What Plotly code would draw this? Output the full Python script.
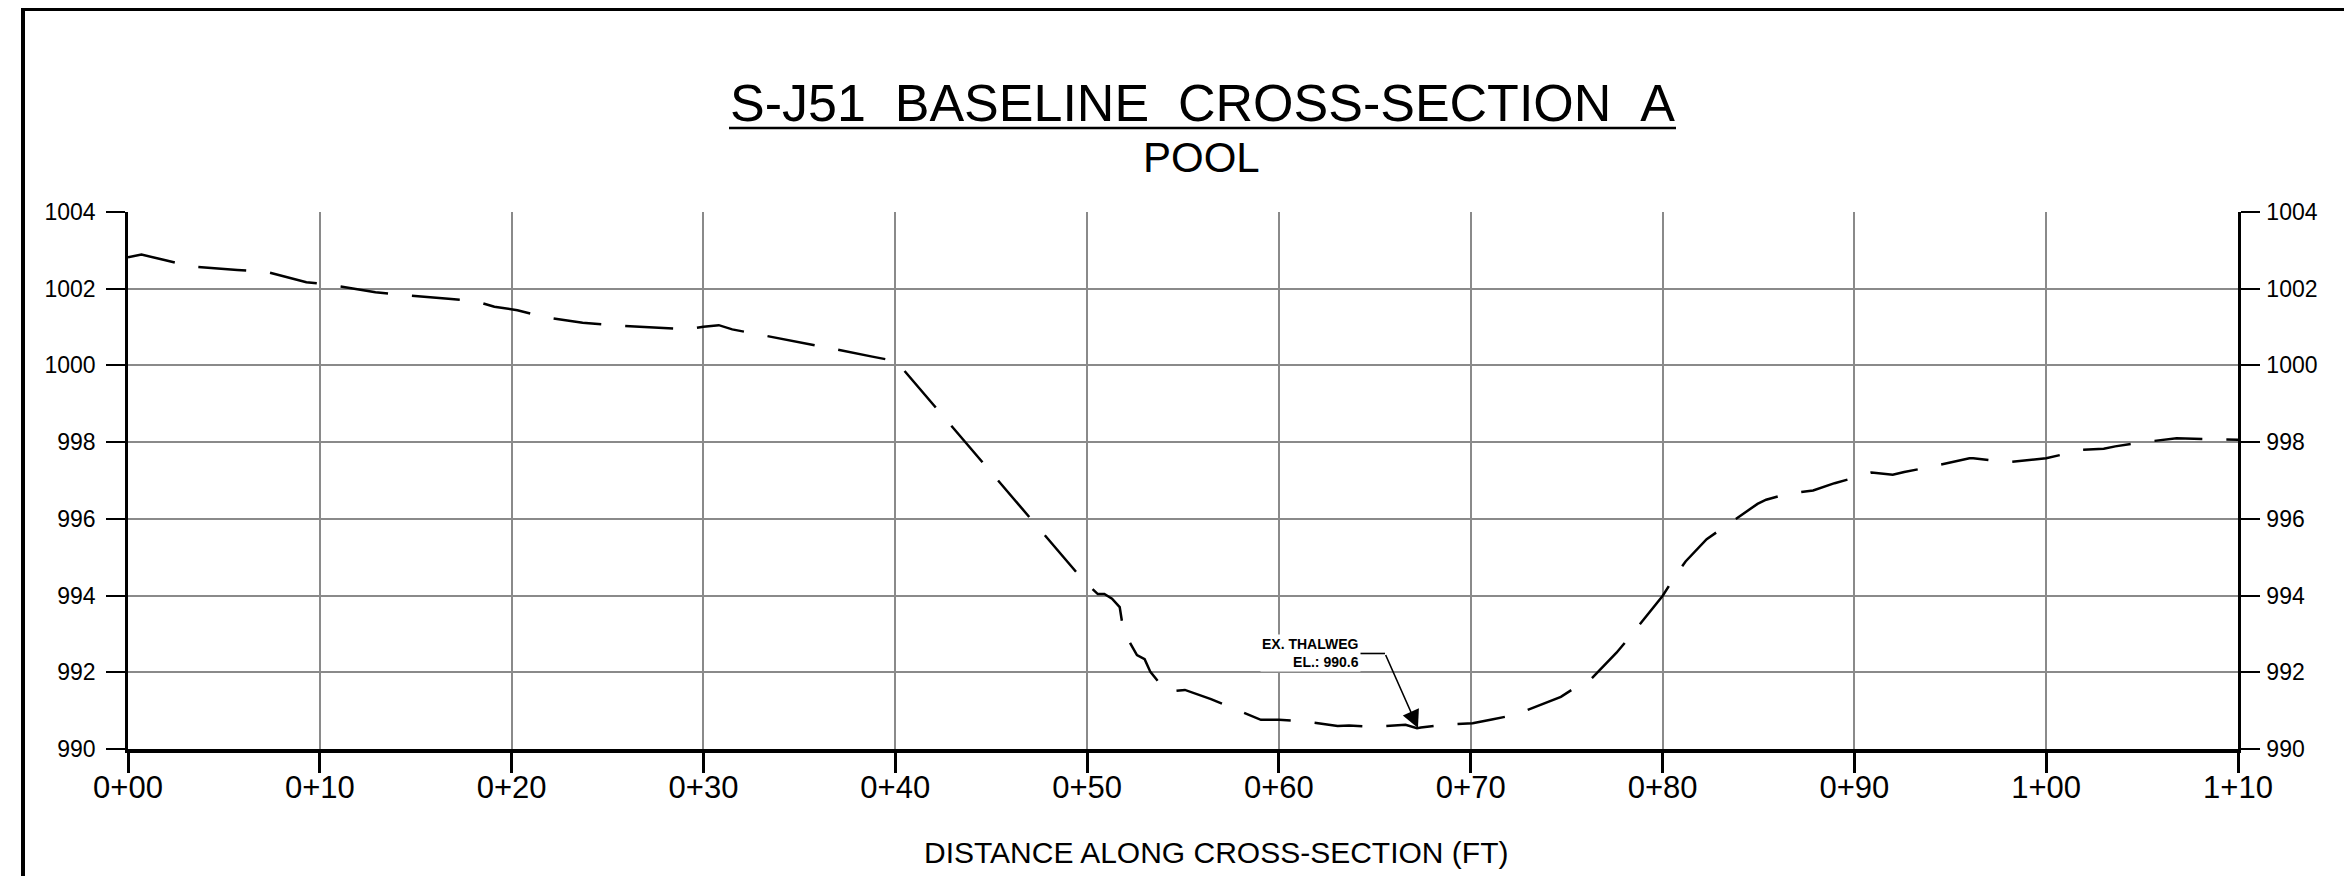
import plotly.graph_objects as go

# ---------------- data ----------------
station_ft = [0, 0.7, 1.9, 3.3, 5.7, 7.3, 9.3, 10.6, 12.9, 14.4,
              16.7, 18.1, 19.1, 20.3, 21.8, 23.7, 25.2, 27.8, 29.2, 30.0,
              30.8, 31.5, 33.1, 35.3, 36.4, 38.8, 40.05, 49.8, 50.56, 50.9,
              51.3, 51.7, 51.9, 52.6, 53.0, 53.3, 54.1, 54.2, 55.1, 56.46,
              57.6, 59.06, 60.0, 61.15, 63.06, 63.66, 64.9, 66.6, 67.2, 67.4,
              68.6, 70.1, 71.1, 72.3, 74.7, 75.7, 76.3, 77.6, 78.4, 80.0,
              80.65, 81.2, 82.3, 83.3, 84.95, 85.4, 86.5, 87.85, 88.97, 90.2,
              90.9, 92.0, 92.6, 93.8, 96.0, 96.2, 97.6, 98.0, 100.0, 101.2,
              101.9, 103.0, 103.6, 104.9, 106.8, 110.0]
elevation_ft = [1002.82, 1002.89, 1002.75, 1002.58, 1002.49, 1002.43, 1002.17, 1002.10, 1001.91, 1001.83,
                1001.74, 1001.68, 1001.53, 1001.44, 1001.25, 1001.11, 1001.05, 1000.97, 1000.94, 1001.01,
                1001.05, 1000.94, 1000.79, 1000.58, 1000.47, 1000.23, 1000.11, 994.40, 994.04, 994.04,
                993.92, 993.70, 993.06, 992.45, 992.34, 992.01, 991.52, 991.49, 991.54, 991.30,
                991.06, 990.76, 990.76, 990.73, 990.60, 990.61, 990.58, 990.63, 990.54, 990.56,
                990.63, 990.67, 990.77, 990.89, 991.36, 991.68, 991.84, 992.51, 992.99, 993.99,
                994.50, 994.89, 995.47, 995.82, 996.39, 996.50, 996.65, 996.74, 996.93, 997.10,
                997.21, 997.15, 997.22, 997.34, 997.58, 997.58, 997.50, 997.48, 997.58, 997.71,
                997.80, 997.83, 997.89, 997.99, 998.10, 998.06]

x_tick_vals = [0, 10, 20, 30, 40, 50, 60, 70, 80, 90, 100, 110]
x_tick_text = ["0+00", "0+10", "0+20", "0+30", "0+40", "0+50", "0+60", "0+70",
               "0+80", "0+90", "1+00", "1+10"]
y_tick_vals = [990, 992, 994, 996, 998, 1000, 1002, 1004]
y_tick_text = ["990", "992", "994", "996", "998", "1000", "1002", "1004"]

title_line1 = "S-J51\u00a0\u00a0BASELINE\u00a0\u00a0CROSS-SECTION\u00a0\u00a0A"
title_line2 = "POOL"
x_title = "DISTANCE ALONG CROSS-SECTION (FT)"

thalweg_station = 67.25
thalweg_elev = 990.55
thalweg_label = "EX. THALWEG<br>EL.: 990.6"
leader_corner = (65.53, 992.49)
leader_start_x = 64.2
label_right_x = 64.3

# ---------------- style ----------------
SANS = "Liberation Sans, Arial, sans-serif"
GRID = "#8a8a8a"

OFF = 8                       # page body margin of the browser
W, H = 2352 - OFF, 876 - OFF
L, R, T, B = 120, 114, 204, 127
PW, PH = W - L - R, H - T - B


def px_x(p):                  # screen pixel -> paper
    return (p - OFF - L) / PW


def px_y(p):
    return (H - B - (p - OFF)) / PH


fig = go.Figure()
fig.add_trace(go.Scatter(
    x=station_ft, y=elevation_ft, mode="lines",
    line=dict(color="black", width=2.5, dash="48px,24px"),
    showlegend=False, hoverinfo="skip"))
# invisible trace to activate the right axis
fig.add_trace(go.Scatter(x=[station_ft[0]], y=[elevation_ft[0]], yaxis="y2",
                         mode="markers", marker=dict(opacity=0), showlegend=False,
                         hoverinfo="skip"))

fig.update_layout(
    width=W, height=H,
    margin=dict(l=L, r=R, t=T, b=B),
    paper_bgcolor="white", plot_bgcolor="white",
    showlegend=False,
    xaxis=dict(range=[0, 110], tickvals=x_tick_vals, ticktext=x_tick_text,
               showgrid=True, gridcolor=GRID, gridwidth=2,
               showline=True, linecolor="black", linewidth=3.5,
               ticks="outside", ticklen=20, tickwidth=2.5, tickcolor="black",
               tickfont=dict(family=SANS, size=31, color="black"),
               ticklabelstandoff=-12,
               zeroline=False, fixedrange=True),
    yaxis=dict(range=[990, 1004], tickvals=y_tick_vals, ticktext=y_tick_text,
               showgrid=True, gridcolor=GRID, gridwidth=2,
               showline=True, linecolor="black", linewidth=2.5,
               ticks="outside", ticklen=19, tickwidth=2, tickcolor="black",
               tickfont=dict(family=SANS, size=23, color="black"),
               ticklabelstandoff=6,
               zeroline=False, fixedrange=True),
    yaxis2=dict(range=[990, 1004], tickvals=y_tick_vals, ticktext=y_tick_text,
                overlaying="y", side="right", showgrid=False,
                showline=True, linecolor="black", linewidth=2.5,
                ticks="outside", ticklen=19, tickwidth=2, tickcolor="black",
                tickfont=dict(family=SANS, size=23, color="black"),
                ticklabelstandoff=2,
                zeroline=False, fixedrange=True),
)

annotations = [
    dict(text=title_line1, x=px_x(1202), y=px_y(103), xref="paper", yref="paper",
         xanchor="center", yanchor="middle", showarrow=False,
         font=dict(family=SANS, size=52, color="black")),
    dict(text=title_line2, x=px_x(1201), y=px_y(157), xref="paper", yref="paper",
         xanchor="center", yanchor="middle", showarrow=False,
         font=dict(family=SANS, size=42, color="black")),
    dict(text=x_title, x=px_x(1216), y=px_y(852), xref="paper", yref="paper",
         xanchor="center", yanchor="middle", showarrow=False,
         font=dict(family=SANS, size=30, color="black")),
    dict(text="<b>" + thalweg_label + "</b>", x=label_right_x, y=leader_corner[1],
         xref="x", yref="y", xanchor="right", yanchor="middle", align="right",
         showarrow=False, bgcolor="white", borderpad=1,
         font=dict(family=SANS, size=14, color="black")),
    dict(text="", x=thalweg_station, y=thalweg_elev, xref="x", yref="y",
         ax=leader_corner[0], ay=leader_corner[1], axref="x", ayref="y",
         showarrow=True, arrowhead=2, arrowsize=2.2, arrowwidth=1.6,
         arrowcolor="black", standoff=0),
]
fig.update_layout(annotations=annotations)

shapes = [
    # title underline
    dict(type="line", xref="paper", yref="paper",
         x0=px_x(729), x1=px_x(1676), y0=px_y(128), y1=px_y(128),
         line=dict(color="black", width=2.5)),
    # leader horizontal segment
    dict(type="line", xref="x", yref="y",
         x0=leader_start_x, x1=leader_corner[0], y0=leader_corner[1], y1=leader_corner[1],
         line=dict(color="black", width=1.6)),
    # drawing frame (left and top edges)
    dict(type="line", xref="paper", yref="paper",
         x0=px_x(23), x1=px_x(23), y0=px_y(8), y1=px_y(890),
         line=dict(color="black", width=4)),
    dict(type="line", xref="paper", yref="paper",
         x0=px_x(21), x1=px_x(2370), y0=px_y(9), y1=px_y(9),
         line=dict(color="black", width=4)),
]
fig.update_layout(shapes=shapes)

fig.write_html("out.html")
